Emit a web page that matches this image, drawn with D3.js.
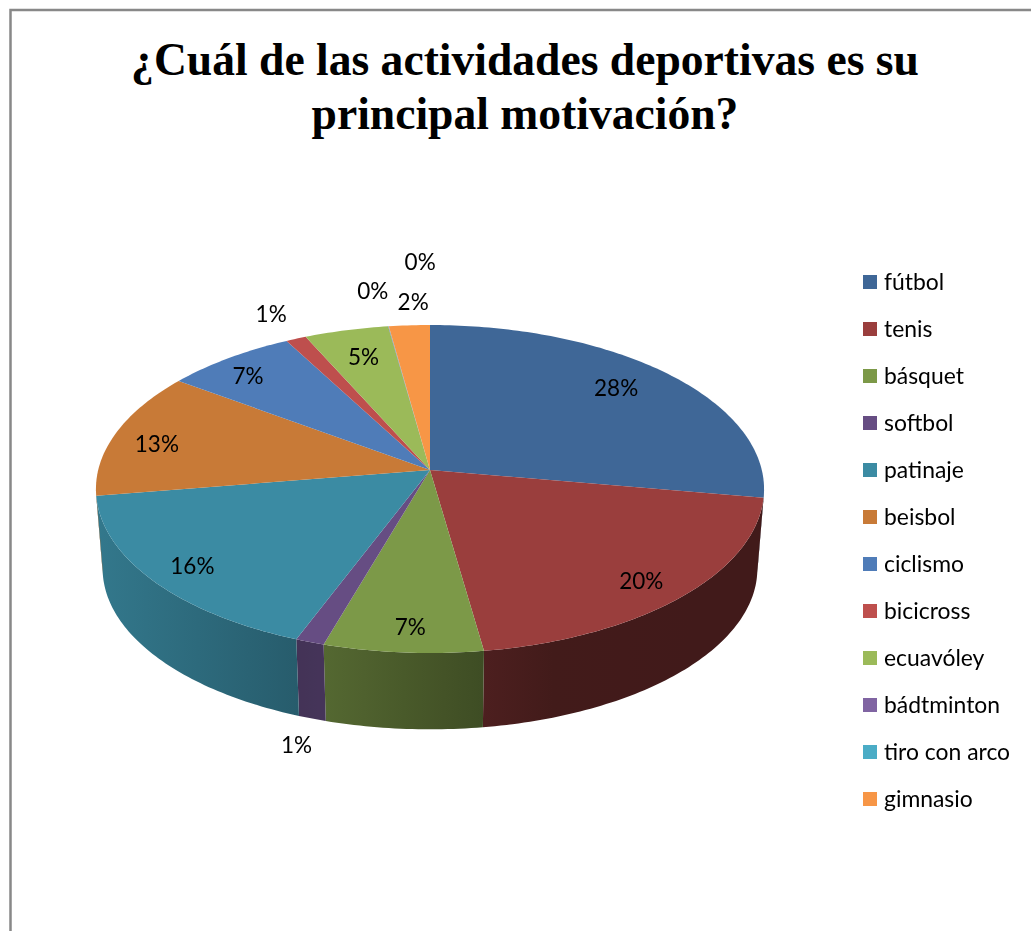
<!DOCTYPE html>
<html>
  <head>
    <title>¿Cuál de las actividades deportivas es su principal motivación?</title>
    <meta charset="UTF-8">
    <style>
      html, body { margin: 0; padding: 0; background: #fff; overflow: hidden; }
      svg { display: block; }
      text { fill: #000; }
      .title { font-family: "Liberation Serif", serif; font-weight: bold; font-size: 45.6px; }
      .lab { font-family: "Lato", sans-serif; font-size: 22.5px; filter: blur(0.4px); }
      .leg { font-family: "Lato", sans-serif; font-size: 22.9px; filter: blur(0.4px); }
    </style>
  </head>
  <body>
    <svg></svg>
    <script src="https://d3js.org/d3.v7.min.js"></script>
    <script>

// values (the slice edges, not the rounded labels)
var categories = ["fútbol", "tenis", "básquet", "softbol", "patinaje", "beisbol", "ciclismo", "bicicross", "ecuavóley", "bádtminton", "tiro con arco", "gimnasio"];
var values = [27.7, 20, 6.9, 1.25, 16.65, 12.5, 7.1, 1.1, 4.55, 0.02, 0.02, 2.21];
var pctLabels = ["28%", "20%", "7%", "1%", "16%", "13%", "7%", "1%", "5%", "0%", "0%", "2%"];
var colors = ["#3f6797", "#9a3e3d", "#7c9948", "#664d83", "#3b8ba3", "#c87a37", "#4f7cb8", "#be4f4d", "#9bba59", "#8064a2", "#4bacc6", "#f79646"];
var titleLines = ["¿Cuál de las actividades deportivas es su", "principal motivación?"];

var config = {
  width: 1031,
  height: 931,
  pivot: [430, 470],  // where the slices meet
  a: 331.8, b: 161.8, p: 0.1159,  // perspective of the pie disc
  depth: 80, bottomScale: 0.98,
  labelRadius: 0.75
};

// label shifts from the point at labelRadius on each slice's middle
var labelNudge = [[6,-8],[26,18],[0,24],[-46,149],[-33,15],[-36,1],[-28,-9],[-56,-56],[-2,-6],[-25,-69],[22,-98],[-1,-57]];

var svg = d3.select("svg")
  .attr("width", config.width)
  .attr("height", config.height);

// chart frame, only top and left are in the crop
svg.append("path")
  .attr("d", "M10.5," + config.height + "V10H" + config.width)
  .attr("fill", "none")
  .attr("stroke", "#888")
  .attr("stroke-width", 2.5);

svg.selectAll(".title")
  .data(titleLines)
  .enter().append("text")
    .attr("class", "title")
    .attr("text-anchor", "middle")
    .attr("x", 525)
    .attr("y", function(d, i) { return 75 + i * 54; })
    .text(function(d) { return d; });

// angle (clockwise from top) and radius on the disc -> pixel, relative to pivot
function project(theta, r, s, dy) {
  var u = r * Math.sin(theta), v = -r * Math.cos(theta);
  var w = 1 - config.p * v;
  return [s * config.a * u / w, dy + s * config.b * v / w];
}

var pie = d3.pie().sort(null).startAngle(0).endAngle(2 * Math.PI);
var arcs = pie(values);
var line = d3.line();

function arcPoints(t0, t1, s, dy) {
  var n = Math.max(2, Math.ceil((t1 - t0) * 60));
  return d3.range(n + 1).map(function(i) {
    return project(t0 + (t1 - t0) * i / n, 1, s, dy);
  });
}

var g = svg.append("g")
  .attr("transform", "translate(" + config.pivot + ")");
var defs = svg.append("defs");

// brightness of the side wall by x position
var shade = d3.scaleLinear()
  .domain([-334, -132, -107, 55, 80, 334])
  .range([0.86, 0.66, 0.68, 0.5, 0.43, 0.42]);

// the wall only shows between the two widest points of the disc
var wallStart = 96.7 * Math.PI / 180, wallEnd = 263.3 * Math.PI / 180;

arcs.forEach(function(d, i) {
  var t0 = Math.max(d.startAngle, wallStart), t1 = Math.min(d.endAngle, wallEnd);
  if (t1 <= t0) return;
  var top = arcPoints(t0, t1, 1, 0);
  var bottom = arcPoints(t0, t1, config.bottomScale, config.depth).reverse();
  var x0 = d3.min(top.concat(bottom), function(p) { return p[0]; });
  var x1 = d3.max(top.concat(bottom), function(p) { return p[0]; });

  var grad = defs.append("linearGradient")
    .attr("id", "wall" + i)
    .attr("gradientUnits", "userSpaceOnUse")
    .attr("x1", x0).attr("x2", x1).attr("y1", 0).attr("y2", 0);
  d3.range(5).forEach(function(k) {
    var x = x0 + (x1 - x0) * k / 4, c = d3.rgb(colors[i]), f = shade(x);
    grad.append("stop")
      .attr("offset", k / 4)
      .attr("stop-color", d3.rgb(c.r * f, c.g * f, c.b * f));
  });

  g.append("path")
    .attr("d", line(top.concat(bottom)) + "Z")
    .attr("fill", "url(#wall" + i + ")");
});

g.selectAll(".slice")
  .data(arcs)
  .enter().append("path")
    .attr("class", "slice")
    .attr("d", function(d) {
      return line([[0, 0]].concat(arcPoints(d.startAngle, d.endAngle, 1, 0))) + "Z";
    })
    .attr("fill", function(d, i) { return colors[i]; });

g.selectAll(".lab")
  .data(arcs)
  .enter().append("text")
    .attr("class", "lab")
    .attr("text-anchor", "middle")
    .attr("dominant-baseline", "central")
    .attr("x", function(d, i) {
      return project((d.startAngle + d.endAngle) / 2, config.labelRadius, 1, 0)[0] + labelNudge[i][0];
    })
    .attr("y", function(d, i) {
      return project((d.startAngle + d.endAngle) / 2, config.labelRadius, 1, 0)[1] + labelNudge[i][1];
    })
    .text(function(d, i) { return pctLabels[i]; });

// legend
var legendY = d3.scalePoint()
  .domain(categories)
  .range([282, 799]);

var leg = svg.selectAll(".legrow")
  .data(categories)
  .enter().append("g")
    .attr("class", "legrow")
    .attr("transform", function(d) { return "translate(863," + legendY(d) + ")"; });

leg.append("rect")
  .attr("y", -7)
  .attr("width", 14)
  .attr("height", 14)
  .attr("fill", function(d, i) { return colors[i]; });

leg.append("text")
  .attr("class", "leg")
  .attr("x", 21)
  .attr("y", 8)
  .text(function(d) { return d; });

    </script>
  </body>
</html>
